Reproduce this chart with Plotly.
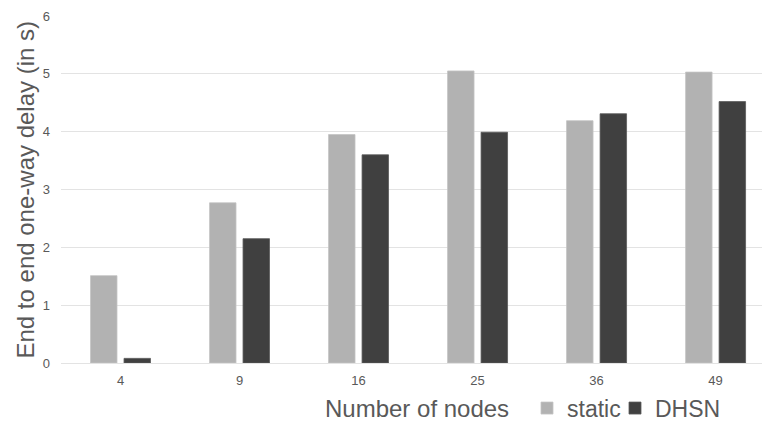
import plotly.graph_objects as go

categories = ["4", "9", "16", "25", "36", "49"]
static_vals = [1.51, 2.77, 3.95, 5.05, 4.19, 5.03]
dhsn_vals = [0.08, 2.15, 3.60, 3.99, 4.31, 4.52]
y_ticks = [0, 1, 2, 3, 4, 5, 6]

FONT = "Liberation Sans, Arial, sans-serif"
GREY_TXT = "#595959"

fig = go.Figure()
fig.add_trace(go.Bar(x=categories, y=static_vals, name="static",
                     marker=dict(color="#b2b2b2", line=dict(width=0.8, color="#c4c4c4")),
                     legend="legend", showlegend=True))
fig.add_trace(go.Bar(x=categories, y=dhsn_vals, name="DHSN",
                     marker=dict(color="#404040", line=dict(width=0.8, color="#5a5a5a")),
                     legend="legend2", showlegend=True))

fig.update_layout(
    width=762, height=421,
    showlegend=True,
    margin=dict(l=61, r=0, t=16, b=58, autoexpand=False),
    paper_bgcolor="white", plot_bgcolor="white",
    barmode="group", bargap=0.437, bargroupgap=0.21,
    font=dict(family=FONT, color=GREY_TXT),
    xaxis=dict(type="category", range=[-0.5, 5.39], showgrid=False,
               showline=False, zeroline=False, ticks="", automargin=False,
               tickfont=dict(size=13, color=GREY_TXT), ticklabelstandoff=8),
    yaxis=dict(range=[0, 6], tickvals=y_ticks, showgrid=True, gridcolor="#e3e3e3",
               gridwidth=1, zeroline=True, zerolinecolor="#e3e3e3", zerolinewidth=1,
               showline=False, ticks="", automargin=False,
               tickfont=dict(size=13, color=GREY_TXT), ticklabelstandoff=10),
    legend=dict(orientation="h", x=(527 - 61) / 701, xanchor="left", y=-0.13,
                yanchor="middle", font=dict(size=23, color=GREY_TXT),
                bgcolor="rgba(0,0,0,0)", borderwidth=0, visible=True),
    legend2=dict(orientation="h", x=(615 - 61) / 701, xanchor="left", y=-0.13,
                 yanchor="middle", font=dict(size=23, color=GREY_TXT),
                 bgcolor="rgba(0,0,0,0)", borderwidth=0, visible=True),
    annotations=[
        dict(text="Number of nodes", xref="paper", yref="paper",
             x=(417 - 61) / 701, y=-0.13, xanchor="center", yanchor="middle",
             showarrow=False, font=dict(size=24, color=GREY_TXT)),
        dict(text="End to end one-way delay (in s)", xref="paper", yref="paper",
             x=(25 - 61) / 701, y=0.5, xanchor="center", yanchor="middle",
             textangle=-90, showarrow=False, font=dict(size=24, color=GREY_TXT)),
    ],
)

fig.write_html("out.html", config={"displayModeBar": False},
               post_script="document.body.style.margin='0';document.body.style.overflow='hidden';")
